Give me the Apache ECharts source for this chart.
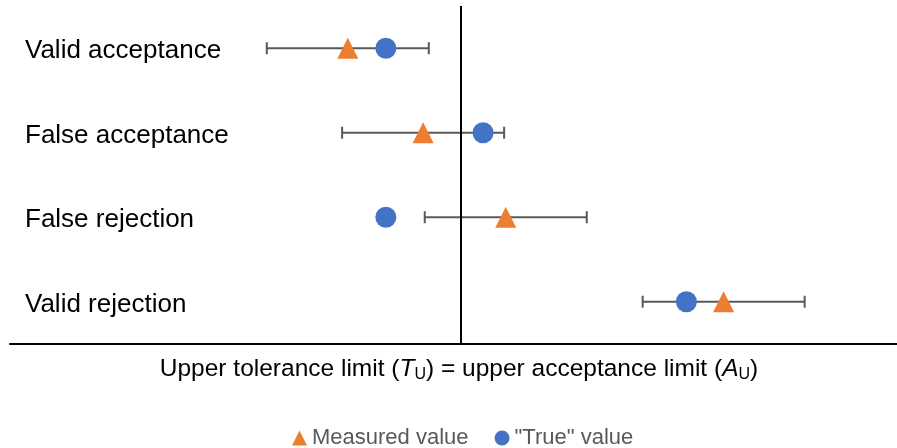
<!DOCTYPE html>
<html>
<head>
<meta charset="utf-8">
<script src="https://cdn.jsdelivr.net/npm/echarts@6/dist/echarts.min.js"></script>
<style>
  html, body { margin: 0; padding: 0; background: #fff; }
  #chart { width: 897px; height: 448px; }
</style>
</head>
<body>
<div id="chart"></div>
<script>
// cases, top to bottom
const cases = ['Valid acceptance', 'False acceptance', 'False rejection', 'Valid rejection']
// positions relative to the limit (limit = 0), in units of the expanded uncertainty
const measured = [-1.40, -0.47, 0.55, 3.24]
const trueValue = [-0.93, 0.27, -0.93, 2.78]
const uncertainty = [1, 1, 1, 1]

const FONT = 'Liberation Sans'

const errData = cases.map((c, i) => [i, measured[i] - uncertainty[i], measured[i] + uncertainty[i]])

const chart = echarts.init(document.getElementById('chart'), null, { renderer: 'canvas' })

chart.setOption({
    animation: false,
    textStyle: { fontFamily: FONT },
    grid: { left: 10, right: 0, top: 6, bottom: 104 },
    legend: {
        top: 427,
        left: 292,
        padding: 0,
        itemWidth: 15,
        itemHeight: 15,
        itemGap: 26,
        textStyle: { fontSize: 22, color: '#595959', fontFamily: FONT },
        data: [
            { name: 'Measured value', icon: 'triangle' },
            { name: '"True" value', icon: 'circle' }
        ]
    },
    xAxis: {
        type: 'value',
        min: -5.57,
        max: 5.38,
        splitLine: { show: false },
        axisTick: { show: false },
        axisLabel: { show: false },
        axisLine: { show: true, onZero: false, lineStyle: { color: '#000', width: 2 } },
        name: '{n|Upper tolerance limit (}{i|T}{s|U}{n|) = upper acceptance limit (}{i|A}{s|U}{n|)}',
        nameLocation: 'middle',
        nameGap: 11,
        nameTextStyle: {
            padding: [0, 0, 0, 11],
            rich: {
                n: { fontSize: 24.5, color: '#000', fontFamily: FONT },
                i: { fontSize: 24.5, color: '#000', fontStyle: 'italic', fontFamily: FONT },
                s: { fontSize: 16, color: '#000', fontFamily: FONT, padding: [12, 0, 0, 0] }
            }
        }
    },
    yAxis: {
        type: 'category',
        data: cases,
        inverse: true,
        axisLine: { show: false },
        axisTick: { show: false },
        splitLine: { show: false },
        axisLabel: {
            inside: true,
            margin: 15,
            formatter: v => '{a|' + v + '}',
            rich: {
                a: { fontSize: 26, color: '#000', fontFamily: FONT, padding: [6, 0, 0, 0] }
            }
        }
    },
    series: [
        {
            name: 'error',
            type: 'custom',
            z: 1,
            silent: true,
            data: errData,
            encode: { y: 0, x: [1, 2] },
            renderItem: function (params, api) {
                const y = api.value(0)
                const lo = api.coord([api.value(1), y])
                const hi = api.coord([api.value(2), y])
                const cap = 6
                const style = { stroke: '#595959', lineWidth: 2 }
                return {
                    type: 'group',
                    children: [
                        { type: 'line', shape: { x1: lo[0], y1: lo[1], x2: hi[0], y2: hi[1] }, style: style },
                        { type: 'line', shape: { x1: lo[0], y1: lo[1] - cap, x2: lo[0], y2: lo[1] + cap }, style: style },
                        { type: 'line', shape: { x1: hi[0], y1: hi[1] - cap, x2: hi[0], y2: hi[1] + cap }, style: style }
                    ]
                }
            },
            markLine: {
                silent: true,
                symbol: ['none', 'none'],
                label: { show: false },
                lineStyle: { color: '#000', width: 2, type: 'solid' },
                data: [{ xAxis: 0 }]
            }
        },
        {
            name: 'Measured value',
            type: 'scatter',
            symbol: 'triangle',
            symbolSize: 21,
            z: 3,
            itemStyle: { color: '#ED7D31', opacity: 1 },
            data: measured.map((v, i) => [v, cases[i]])
        },
        {
            name: '"True" value',
            type: 'scatter',
            symbol: 'circle',
            symbolSize: 21,
            z: 4,
            itemStyle: { color: '#4472C4', opacity: 1 },
            data: trueValue.map((v, i) => [v, cases[i]])
        }
    ]
})
</script>
</body>
</html>
